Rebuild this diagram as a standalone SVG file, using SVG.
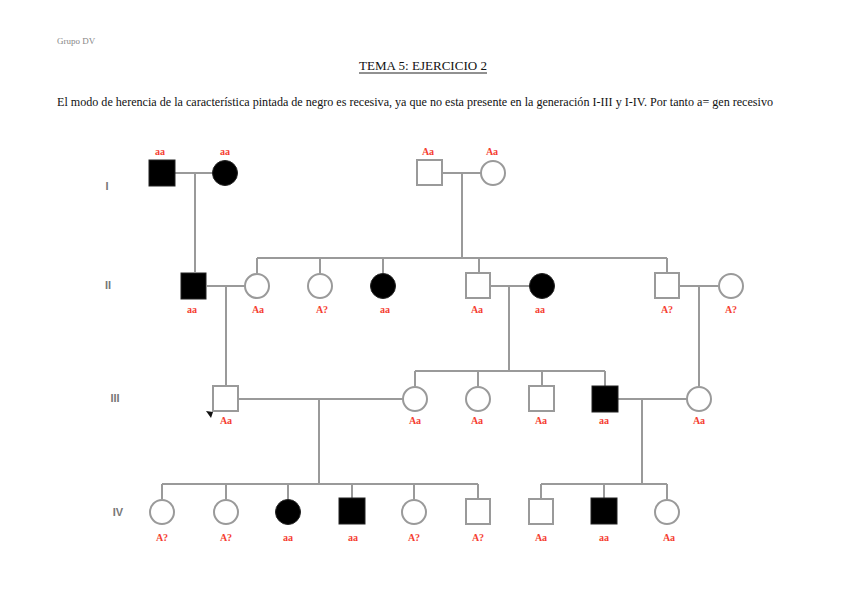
<svg xmlns="http://www.w3.org/2000/svg" width="848" height="599" viewBox="0 0 848 599">
<style>
.ln{stroke:#9a9a9a;stroke-width:2;fill:none}
.o{fill:#fff;stroke:#9a9a9a;stroke-width:2}
.f{fill:#000;stroke:#222;stroke-width:1}
.lb{font-family:"Liberation Serif",serif;font-size:10px;font-weight:bold;fill:#f5402f;text-anchor:middle}
.gen{font-family:"Liberation Sans",sans-serif;font-size:11px;font-weight:bold;fill:#777;text-anchor:middle}
.tx{font-family:"Liberation Serif",serif;fill:#111}
</style>
<rect width="848" height="599" fill="#fff"/>
<text x="57" y="44" font-family="Liberation Serif,serif" font-size="9" fill="#888">Grupo DV</text>
<text class="tx" x="359" y="70" font-size="13" textLength="128" lengthAdjust="spacingAndGlyphs">TEMA 5: EJERCICIO 2</text>
<line x1="359" y1="73" x2="487" y2="73" stroke="#222" stroke-width="1"/>
<text class="tx" x="57" y="106" font-size="12" textLength="716" lengthAdjust="spacingAndGlyphs">El modo de herencia de la característica pintada de negro es recesiva, ya que no esta presente en la generación I-III y I-IV. Por tanto a= gen recesivo</text>
<g id="gens">
<text class="gen" x="107" y="190">I</text>
<text class="gen" x="108" y="289">II</text>
<text class="gen" x="115" y="402">III</text>
<text class="gen" x="118" y="516">IV</text>
</g>
<g id="connectors">
<path class="ln" d="M175 173H213M195 173V272"/>
<path class="ln" d="M443 173H481M462 173V258M257 258H667M257 258V273M320 258V273M383 258V273M479 258V272M667 258V272"/>
<path class="ln" d="M207 286H245M226 286V386"/>
<path class="ln" d="M491 286H530M509 286V371M415 371H605M415 371V386M478 371V386M542 371V386M605 371V386"/>
<path class="ln" d="M680 286H718M699 286V386"/>
<path class="ln" d="M238 399H403M319 399V484M162 484H478M162 484V499M226 484V499M288 484V499M352 484V498M414 484V499M478 484V498"/>
<path class="ln" d="M618 399H687M642 399V484M541 484H667M541 484V498M604 484V498M667 484V499"/>
</g>
<g id="I-1"><rect class="f" x="149" y="160" width="26" height="26"/><text class="lb" x="160" y="155">aa</text></g>
<g id="I-2"><circle class="f" cx="225" cy="173" r="12.5"/><text class="lb" x="225" y="155">aa</text></g>
<g id="I-3"><rect class="o" x="417" y="160" width="25" height="25"/><text class="lb" x="428" y="155">Aa</text></g>
<g id="I-4"><circle class="o" cx="493" cy="173" r="12"/><text class="lb" x="492" y="155">Aa</text></g>
<g id="II-1"><rect class="f" x="181" y="273" width="25" height="26"/><text class="lb" x="192" y="313">aa</text></g>
<g id="II-2"><circle class="o" cx="257" cy="286" r="12"/><text class="lb" x="258" y="313">Aa</text></g>
<g id="II-3"><circle class="o" cx="320" cy="286" r="12"/><text class="lb" x="322" y="313">A?</text></g>
<g id="II-4"><circle class="f" cx="383" cy="286" r="12.5"/><text class="lb" x="385" y="313">aa</text></g>
<g id="II-5"><rect class="o" x="466" y="273" width="24" height="25"/><text class="lb" x="477" y="313">Aa</text></g>
<g id="II-6"><circle class="f" cx="542" cy="286" r="12.5"/><text class="lb" x="540" y="313">aa</text></g>
<g id="II-7"><rect class="o" x="655" y="273" width="24" height="25"/><text class="lb" x="667" y="313">A?</text></g>
<g id="II-8"><circle class="o" cx="731" cy="286" r="12"/><text class="lb" x="731" y="313">A?</text></g>
<g id="III-1"><rect class="o" x="213" y="386" width="25" height="25"/><polygon points="206,411 213,412 211,418" fill="#111"/><text class="lb" x="226" y="424">Aa</text></g>
<g id="III-2"><circle class="o" cx="415" cy="399" r="12"/><text class="lb" x="415" y="424">Aa</text></g>
<g id="III-3"><circle class="o" cx="478" cy="399" r="12"/><text class="lb" x="477" y="424">Aa</text></g>
<g id="III-4"><rect class="o" x="529" y="386" width="25" height="25"/><text class="lb" x="541" y="424">Aa</text></g>
<g id="III-5"><rect class="f" x="592" y="386" width="26" height="26"/><text class="lb" x="604" y="424">aa</text></g>
<g id="III-6"><circle class="o" cx="699" cy="399" r="12"/><text class="lb" x="699" y="424">Aa</text></g>
<g id="IV-1"><circle class="o" cx="162" cy="512" r="12"/><text class="lb" x="162" y="541">A?</text></g>
<g id="IV-2"><circle class="o" cx="226" cy="512" r="12"/><text class="lb" x="226" y="541">A?</text></g>
<g id="IV-3"><circle class="f" cx="288" cy="512" r="12.5"/><text class="lb" x="288" y="541">aa</text></g>
<g id="IV-4"><rect class="f" x="339" y="498" width="26" height="26"/><text class="lb" x="353" y="541">aa</text></g>
<g id="IV-5"><circle class="o" cx="414" cy="512" r="12"/><text class="lb" x="414" y="541">A?</text></g>
<g id="IV-6"><rect class="o" x="466" y="499" width="24" height="25"/><text class="lb" x="478" y="541">A?</text></g>
<g id="IV-7"><rect class="o" x="529" y="499" width="24" height="25"/><text class="lb" x="541" y="541">Aa</text></g>
<g id="IV-8"><rect class="f" x="591" y="498" width="26" height="26"/><text class="lb" x="604" y="541">aa</text></g>
<g id="IV-9"><circle class="o" cx="667" cy="512" r="12"/><text class="lb" x="669" y="541">Aa</text></g>
</svg>
